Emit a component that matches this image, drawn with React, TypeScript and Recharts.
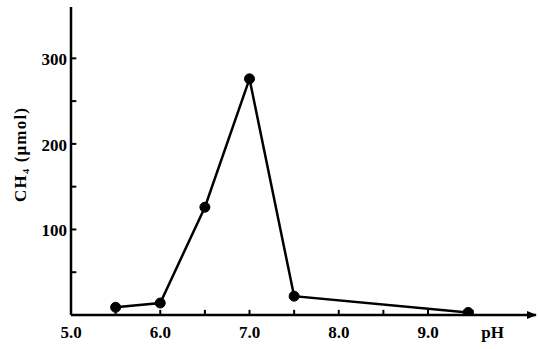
import { Line, LineChart, ReferenceLine, XAxis, YAxis } from "recharts";

// pH vs methane produced
const phValues = [5.5, 6.0, 6.5, 7.0, 7.5, 9.45];
const ch4Values = [9, 14, 126, 276, 22, 3];

const xTicks = [5.0, 5.5, 6.0, 6.5, 7.0, 7.5, 8.0, 8.5, 9.0, 9.5];
const xTickLabels: Record<string, string> = {
  "5": "5.0",
  "6": "6.0",
  "7": "7.0",
  "8": "8.0",
  "9": "9.0",
};
const yTicks = [50, 100, 150, 200, 250, 300];
const yTickLabels = [100, 200, 300];

const X_MIN = 5;
const X_MAX = 10.21;
const Y_MIN = 0;
const Y_MAX = 360;

const data = phValues.map((ph, i) => ({ ph, ch4: ch4Values[i] }));

const FONT = "'Liberation Serif', 'DejaVu Serif', serif";
const textStyle = { fill: "#000", fontWeight: 700, fontFamily: FONT };

function XTick(props: any) {
  const { x, y, payload } = props;
  const label = xTickLabels[String(payload.value)] ?? "";
  if (!label) return <g />;
  return (
    <text x={x} y={y + 23} textAnchor="middle" fontSize={17} {...textStyle}>
      {label}
    </text>
  );
}

function YTick(props: any) {
  const { x, y, payload } = props;
  if (!yTickLabels.includes(payload.value)) return <g />;
  return (
    <text x={x - 4} y={y + 7} textAnchor="end" fontSize={17} {...textStyle}>
      {payload.value}
    </text>
  );
}

export default function App() {
  return (
    <div style={{ position: "absolute", left: 0, top: 0, background: "#fff" }}>
      <LineChart
        width={538}
        height={349}
        data={data}
        margin={{ top: 7, right: 2, left: 0, bottom: 0 }}
      >
        <defs>
          <marker
            id="arrow"
            viewBox="0 0 10 10"
            refX="9"
            refY="5"
            markerWidth="4"
            markerHeight="4"
            orient="auto"
          >
            <path d="M0,1 L10,5 L0,9 z" fill="#000" />
          </marker>
        </defs>
        <XAxis
          dataKey="ph"
          type="number"
          domain={[X_MIN, X_MAX]}
          ticks={xTicks}
          allowDataOverflow
          height={34}
          tickSize={0}
          tickMargin={0}
          tickLine={false}
          axisLine={{ stroke: "#000", strokeWidth: 2.5, markerEnd: "url(#arrow)" }}
          tick={<XTick />}
          label={{
            value: "pH",
            position: "insideBottomRight",
            offset: 0,
            dx: -32,
            dy: -11,
            fontSize: 17,
            ...textStyle,
          }}
        />
        <YAxis
          type="number"
          domain={[Y_MIN, Y_MAX]}
          ticks={yTicks}
          allowDataOverflow
          width={71}
          tickSize={0}
          tickMargin={0}
          tickLine={false}
          axisLine={{ stroke: "#000", strokeWidth: 2.5 }}
          tick={<YTick />}
          label={{
            value: "CH₄ (μmol)",
            angle: -90,
            position: "insideLeft",
            offset: 20,
            dy: 41,
            fontSize: 17,
            letterSpacing: 1.2,
            ...textStyle,
          }}
        />
        {/* inward tick marks, as in the printed figure */}
        {xTicks.map((v) => (
          <ReferenceLine
            key={`xt${v}`}
            segment={[
              { x: v, y: Y_MIN },
              { x: v, y: Y_MIN + 6 },
            ]}
            stroke="#000"
            strokeWidth={2}
            ifOverflow="visible"
          />
        ))}
        {yTicks.map((v) => (
          <ReferenceLine
            key={`yt${v}`}
            segment={[
              { x: X_MIN, y: v },
              { x: X_MIN + 0.06, y: v },
            ]}
            stroke="#000"
            strokeWidth={2}
            ifOverflow="visible"
          />
        ))}
        <Line
          type="linear"
          dataKey="ch4"
          stroke="#000"
          strokeWidth={2.5}
          dot={{ r: 5, fill: "#000", stroke: "#000", strokeWidth: 1 }}
          isAnimationActive={false}
        />
      </LineChart>
    </div>
  );
}
